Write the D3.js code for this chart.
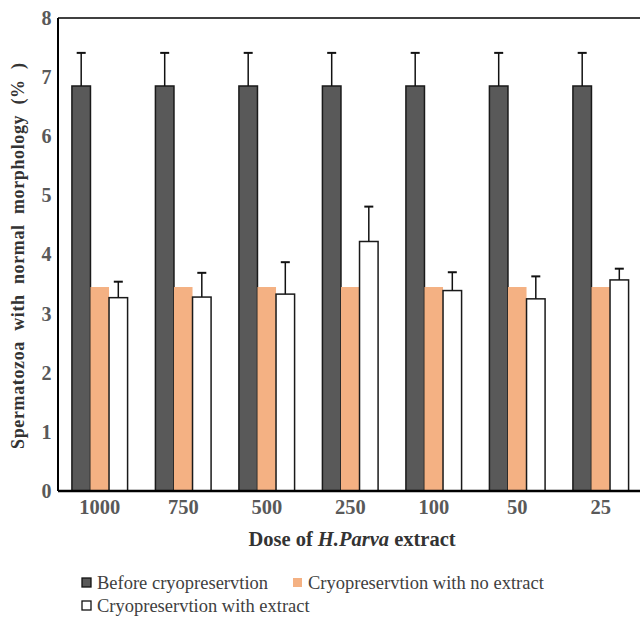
<!DOCTYPE html>
<html>
<head>
<meta charset="utf-8">
<script src="https://cdn.jsdelivr.net/npm/d3@7"></script>
<style>
body { margin: 0; background: #fff; }
svg { display: block; }
svg text { font-family: "Liberation Serif", "Times New Roman", serif; }
</style>
</head>
<body>
<svg id="chart" width="640" height="619"></svg>
<script>
const categories = ["1000", "750", "500", "250", "100", "50", "25"];
const seriesNames = ["Before cryopreservtion", "Cryopreservtion with no extract", "Cryopreservtion with extract"];
const beforeValues = [6.85, 6.85, 6.85, 6.85, 6.85, 6.85, 6.85];
const beforeErrors = [0.56, 0.56, 0.56, 0.56, 0.56, 0.56, 0.56];
const noExtractValues = [3.45, 3.45, 3.45, 3.45, 3.45, 3.45, 3.45];
const extractValues = [3.27, 3.28, 3.33, 4.22, 3.39, 3.25, 3.57];
const extractErrors = [0.27, 0.41, 0.54, 0.59, 0.31, 0.38, 0.19];
const yTicks = [0, 1, 2, 3, 4, 5, 6, 7, 8];

(function () {
const svg = d3.select("#chart");
const pLeft = 58, pTop = 18, pBottom = 491, pRight = 642.5;
const serif = '"Liberation Serif", "Times New Roman", serif';

const x0 = d3.scaleBand().domain(categories).range([pLeft, pRight]).paddingInner(1/3).paddingOuter(1/6);
const x1 = d3.scaleBand().domain([0, 1, 2]).range([0, x0.bandwidth()]);
const y = d3.scaleLinear().domain([0, 8]).range([pBottom, pTop]);

const fills = ["#595959", "#F4B183", "#FFFFFF"];
const strokes = ["#1a1a1a", "none", "#1a1a1a"];
const data = categories.map((c, i) => ({
  cat: c,
  bars: [
    {s: 0, v: beforeValues[i], e: beforeErrors[i]},
    {s: 1, v: noExtractValues[i], e: 0},
    {s: 2, v: extractValues[i], e: extractErrors[i]}
  ]
}));

const g = svg.append("g");
const groups = g.selectAll("g.grp").data(data).join("g")
  .attr("class", "grp")
  .attr("transform", d => `translate(${x0(d.cat)},0)`);

groups.selectAll("rect").data(d => d.bars).join("rect")
  .attr("x", d => x1(d.s))
  .attr("y", d => y(d.v))
  .attr("width", x1.bandwidth())
  .attr("height", d => y(0) - y(d.v))
  .attr("fill", d => fills[d.s])
  .attr("stroke", d => strokes[d.s])
  .attr("stroke-width", 1.5);

const errs = groups.selectAll("g.err").data(d => d.bars.filter(b => b.e > 0)).join("g").attr("class", "err");
errs.append("line")
  .attr("x1", d => x1(d.s) + x1.bandwidth() / 2)
  .attr("x2", d => x1(d.s) + x1.bandwidth() / 2)
  .attr("y1", d => y(d.v))
  .attr("y2", d => y(d.v + d.e))
  .attr("stroke", "#111").attr("stroke-width", 1.5);
errs.append("line")
  .attr("x1", d => x1(d.s) + x1.bandwidth() / 2 - 4.5)
  .attr("x2", d => x1(d.s) + x1.bandwidth() / 2 + 4.5)
  .attr("y1", d => y(d.v + d.e))
  .attr("y2", d => y(d.v + d.e))
  .attr("stroke", "#111").attr("stroke-width", 2);

// frame
svg.append("line").attr("x1", pLeft).attr("x2", 640).attr("y1", pTop).attr("y2", pTop)
  .attr("stroke", "#000").attr("stroke-width", 1.5);
svg.append("line").attr("x1", pLeft).attr("x2", pLeft).attr("y1", pTop).attr("y2", pBottom)
  .attr("stroke", "#000").attr("stroke-width", 2);
svg.append("line").attr("x1", pLeft).attr("x2", 640).attr("y1", pBottom).attr("y2", pBottom)
  .attr("stroke", "#000").attr("stroke-width", 2.5);

const yAxis = svg.append("g").attr("transform", `translate(${pLeft},0)`)
  .call(d3.axisLeft(y).tickValues(yTicks).tickSize(0).tickPadding(6.5).tickFormat(d3.format("d")));
yAxis.select(".domain").remove();
yAxis.attr("font-family", null).attr("font-size", null);
yAxis.selectAll("text")
  .style("font-family", serif)
  .style("font-weight", "bold").style("font-size", "20px").attr("fill", "#595959");

const xAxis = svg.append("g").attr("transform", `translate(0,${pBottom})`)
  .call(d3.axisBottom(x0).tickSize(0).tickPadding(8));
xAxis.select(".domain").remove();
xAxis.attr("font-family", null).attr("font-size", null);
xAxis.selectAll("text")
  .style("font-family", serif)
  .style("font-weight", "bold").style("font-size", "20.5px").attr("fill", "#595959");

const xt = svg.append("text").attr("x", 352).attr("y", 546).attr("text-anchor", "middle")
  .style("font-family", serif)
  .style("font-weight", "bold").style("font-size", "20.5px").attr("fill", "#333");
xt.append("tspan").text("Dose of ");
xt.append("tspan").style("font-style", "italic").text("H.Parva");
xt.append("tspan").text(" extract");

svg.append("text")
  .attr("transform", "translate(24,256) rotate(-90)")
  .attr("text-anchor", "middle")
  .style("font-family", serif)
  .style("font-weight", "bold").style("font-size", "18px").attr("fill", "#333")
  .style("white-space", "pre")
  .attr("textLength", 386)
  .attr("lengthAdjust", "spacing")
  .text("Spermatozoa  with  normal  morphology  (%  )");

const legendItems = [
  {s: 0, x: 81, y: 589},
  {s: 1, x: 292, y: 589},
  {s: 2, x: 81, y: 612}
];
const lg = svg.append("g").selectAll("g").data(legendItems).join("g")
  .attr("transform", d => `translate(${d.x},${d.y})`);
lg.append("rect").attr("x", 1).attr("y", -11).attr("width", 9).attr("height", 9)
  .attr("fill", d => fills[d.s])
  .attr("stroke", d => d.s === 1 ? "none" : "#111").attr("stroke-width", 1.3);
lg.append("text").attr("x", 16).attr("y", 0)
  .style("font-family", serif)
  .style("font-size", "18.5px").attr("fill", "#404040")
  .text(d => seriesNames[d.s]);
})();
</script>
</body>
</html>
